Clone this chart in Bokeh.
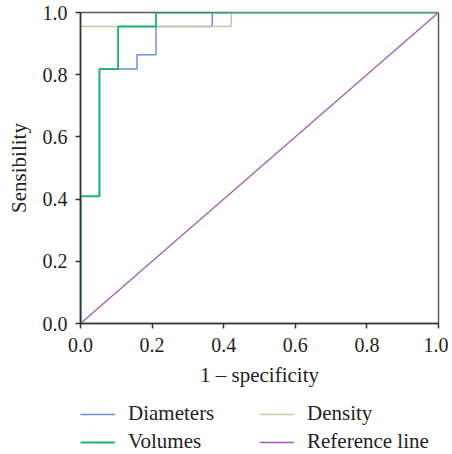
from bokeh.plotting import figure
from bokeh.layouts import column
from bokeh.models import Range1d, FixedTicker, Legend, LegendItem
from bokeh.embed import file_html
from bokeh.resources import INLINE

# ROC points (1 - specificity, sensibility), step "after"
diam_fpr = [0.0, 0.0, 0.053, 0.158, 0.211, 0.368, 1.0]
diam_tpr = [0.0, 0.409, 0.818, 0.864, 0.955, 1.0, 1.0]
vol_fpr = [0.0, 0.0, 0.053, 0.105, 0.211, 1.0]
vol_tpr = [0.0, 0.409, 0.818, 0.955, 1.0, 1.0]
dens_fpr = [0.0, 0.0, 0.421, 1.0]
dens_tpr = [0.0, 0.955, 1.0, 1.0]
ref_x = [0.0, 1.0]
ref_y = [0.0, 1.0]
ticks = [0.0, 0.2, 0.4, 0.6, 0.8, 1.0]
tick_labels = ["0.0", "0.2", "0.4", "0.6", "0.8", "1.0"]
series_names = ["Diameters", "Density", "Volumes", "Reference line"]

FONT = "Liberation Serif"
C_DIAM = "#6b93d3"
C_VOL = "#1fb46e"
C_DENS = "#c9c8a2"
C_REF = "#a45bb8"
colors = [C_DIAM, C_DENS, C_VOL, C_REF]
widths = [1.5, 1.5, 1.8, 1.3]
series_x = [diam_fpr, dens_fpr, vol_fpr, ref_x]
series_y = [diam_tpr, dens_tpr, vol_tpr, ref_y]

p = figure(width=448, height=390, output_backend="svg", toolbar_location=None,
           x_range=Range1d(0, 1), y_range=Range1d(0, 1),
           min_border_left=80, min_border_right=10, min_border_top=12,
           min_border_bottom=67)
p.title.visible = False
p.grid.visible = False
p.outline_line_color = "#5a5a5a"
p.outline_line_width = 1.5
p.outline_line_alpha = 1.0

p.step(diam_fpr, diam_tpr, mode="after", line_color=C_DIAM, line_width=1.5)
p.step(dens_fpr, dens_tpr, mode="after", line_color=C_DENS, line_width=1.5)
p.step(vol_fpr, vol_tpr, mode="after", line_color=C_VOL, line_width=1.8)
p.line(ref_x, ref_y, line_color=C_REF, line_width=1.3)

for ax in (p.xaxis[0], p.yaxis[0]):
    ax.ticker = FixedTicker(ticks=ticks)
    ax.major_label_overrides = {t: l for t, l in zip(ticks, tick_labels)}
    ax.minor_tick_line_color = None
    ax.major_tick_in = 0
    ax.major_tick_out = 5
    ax.major_tick_line_color = "#333333"
    ax.major_tick_line_width = 1.5
    ax.axis_line_color = "#333333"
    ax.axis_line_width = 1.5
    ax.major_label_text_font = FONT
    ax.major_label_text_font_size = "20px"
    ax.major_label_text_color = "#231f20"
    ax.axis_label_text_font = FONT
    ax.axis_label_text_font_size = "21px"
    ax.axis_label_text_font_style = "normal"
    ax.axis_label_text_color = "#231f20"

p.xaxis.axis_label = "1 – specificity"
p.yaxis.axis_label = "Sensibility"
p.xaxis.major_label_standoff = 9
p.yaxis.major_label_standoff = 8
p.xaxis.axis_label_standoff = 8
p.yaxis.axis_label_standoff = 9

# legend strip below the chart (series drawn out of view, only for legend glyphs)
p2 = figure(width=448, height=62, output_backend="svg", toolbar_location=None,
            x_range=Range1d(0, 1), y_range=Range1d(5, 6),
            x_axis_location=None, y_axis_location=None,
            min_border_left=80, min_border_right=10, min_border_top=0,
            min_border_bottom=0)
p2.title.visible = False
p2.grid.visible = False
p2.outline_line_color = None
items = []
for name, xs, ys, c, w in zip(series_names, series_x, series_y, colors, widths):
    r = p2.line(xs, ys, line_color=c, line_width=w)
    items.append(LegendItem(label=name, renderers=[r]))

legend = Legend(items=items, location=(0, -2), orientation="horizontal", ncols=2,
                glyph_width=35, glyph_height=20, label_height=20,
                label_width=128, label_standoff=13, spacing=3,
                padding=0, margin=0,
                border_line_alpha=0, background_fill_alpha=0,
                label_text_font=FONT, label_text_font_size="21px",
                label_text_color="#231f20")
p2.add_layout(legend, "center")

layout = column(p, p2, spacing=0)
open("out.html", "w").write(file_html(layout, INLINE))
